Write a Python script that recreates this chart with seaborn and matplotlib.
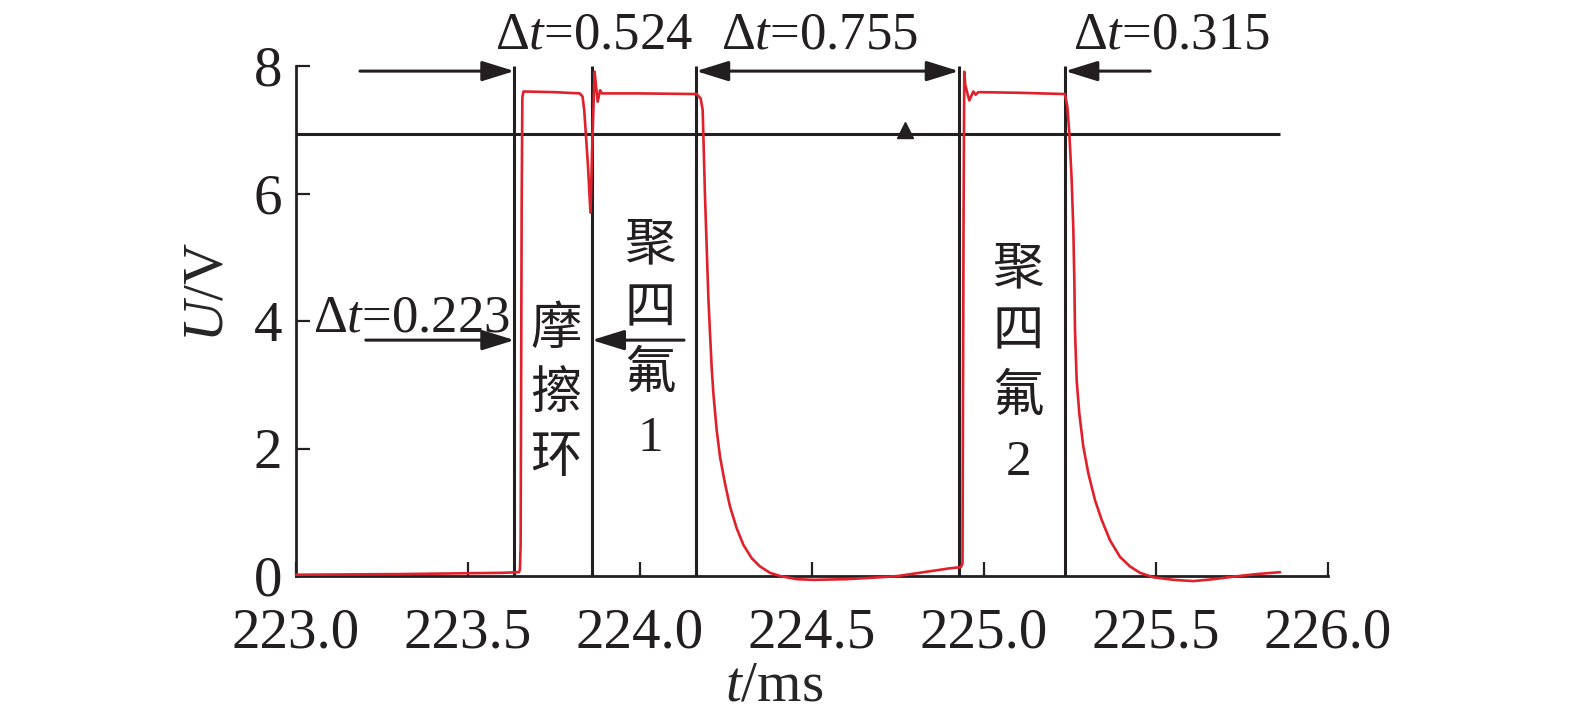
import matplotlib
matplotlib.use("Agg")
import matplotlib.pyplot as plt
import seaborn as sns
import pandas as pd

# red voltage trace (t in ms, U in V)
t_ms = [223.000, 223.300, 223.600, 223.648, 223.651, 223.653, 223.656, 223.658, 223.661,
        223.750, 223.825, 223.833, 223.838, 223.848, 223.856, 223.862, 223.868, 223.872,
        223.877, 223.884, 223.889, 224.000, 224.1647, 224.1764, 224.1822, 224.1841,
        224.1890, 224.1938, 224.1986, 224.2035, 224.2083, 224.2132, 224.2229, 224.2326,
        224.2471, 224.2616, 224.2810, 224.3004, 224.3246, 224.3488, 224.3779, 224.4070,
        224.4554, 224.5039, 224.6008, 224.6977, 224.750, 224.800, 224.850, 224.900,
        224.933, 224.9375, 224.9405, 224.9427, 224.9456, 224.9573, 224.9689, 224.9759,
        224.9834, 225.100, 225.2355, 225.2423, 225.2481, 225.2549, 225.2597, 225.2626,
        225.2645, 225.2694, 225.2771, 225.2887, 225.3033, 225.3227, 225.3421, 225.3663,
        225.3953, 225.4244, 225.4535, 225.4922, 225.5504, 225.6085, 225.6667, 225.7248,
        225.7926, 225.8605]
u_v = [0.02, 0.03, 0.05, 0.06, 0.10, 0.50, 5.80, 7.50, 7.60,
       7.59, 7.57, 7.52, 7.30, 6.50, 5.70, 6.90, 7.91, 7.70,
       7.44, 7.62, 7.57, 7.57, 7.56, 7.49, 7.31, 6.94,
       5.95, 5.17, 4.38, 3.81, 3.28, 2.87, 2.29, 1.87,
       1.45, 1.09, 0.75, 0.49, 0.28, 0.15, 0.05, 0.00,
       -0.05, -0.06, -0.05, -0.02, 0.00, 0.04, 0.08, 0.12,
       0.14, 0.20, 5.50, 7.91, 7.70, 7.46, 7.60, 7.55,
       7.59, 7.58, 7.56, 7.36, 6.94, 6.21, 5.43, 4.64,
       3.86, 3.07, 2.55, 2.03, 1.61, 1.19, 0.88, 0.56,
       0.30, 0.15, 0.05, -0.02, -0.06, -0.08, -0.05, -0.01,
       0.03, 0.06]

threshold_u = 6.94
threshold_t = [223.0, 225.86]
marker_t = 224.77
edge_t = [223.635, 223.860, 224.163, 224.927, 225.236]

# (start, end) of arrows
arrows_top = [(223.186, 223.635), (225.483, 225.236)]
arrow_double = (224.163, 224.927)
arrow_top_y = 7.92
arrows_low = [(223.203, 223.635), (224.128, 223.860)]
arrow_low_y = 3.70

dt_labels = ["Δ$t$=0.524", "Δ$t$=0.755", "Δ$t$=0.315", "Δ$t$=0.223"]
dt_pos = [(223.866, 8.28), (224.523, 8.28), (225.544, 8.28), (223.337, 3.83)]
cn_labels = ["摩擦环", "聚四氟1", "聚四氟2"]
cn_pos = [(223.756, 4.21), (224.029, 5.52), (225.100, 5.15)]

xticks = [223.0, 223.5, 224.0, 224.5, 225.0, 225.5, 226.0]
yticks = [0, 2, 4, 6, 8]

sns.set_style("ticks")
plt.rcParams["font.family"] = ["Liberation Serif", "Noto Sans CJK SC"]
plt.rcParams["mathtext.fontset"] = "custom"
plt.rcParams["mathtext.rm"] = "Liberation Serif"
plt.rcParams["mathtext.it"] = "Liberation Serif:italic"

fig = plt.figure(figsize=(15.75, 7.28), dpi=100)
ax = fig.add_axes([296 / 1575, 1 - 576 / 728, 1032 / 1575, 510 / 728])

df = pd.DataFrame({"t": t_ms, "u": u_v})
sns.lineplot(data=df, x="t", y="u", ax=ax, sort=False, estimator=None,
             color="#e0202a", lw=1.9, clip_on=False, zorder=3)

ax.hlines(threshold_u, threshold_t[0], threshold_t[1], color="#231f20", lw=2.2, zorder=2)
ax.plot([marker_t], [threshold_u + 0.06], marker="^", ms=12, color="#231f20",
        clip_on=False, zorder=4)
ax.vlines(edge_t, 0, 8, color="#231f20", lw=2.2, zorder=2, clip_on=False)

aprops = dict(arrowstyle="-|>,head_length=0.9,head_width=0.28", mutation_scale=22,
              lw=2.2, color="#231f20", shrinkA=0, shrinkB=0)
for s, e in arrows_top:
    ax.annotate("", xy=(e, arrow_top_y), xytext=(s, arrow_top_y), arrowprops=aprops,
                annotation_clip=False)
for s, e in arrows_low:
    ax.annotate("", xy=(e, arrow_low_y), xytext=(s, arrow_low_y), arrowprops=aprops,
                annotation_clip=False)
dprops = dict(aprops)
dprops["arrowstyle"] = "<|-|>,head_length=0.9,head_width=0.28"
ax.annotate("", xy=(arrow_double[1], arrow_top_y), xytext=(arrow_double[0], arrow_top_y),
            arrowprops=dprops, annotation_clip=False)

for lab, (x, y) in zip(dt_labels, dt_pos):
    ax.text(x, y, lab, fontsize=38, ha="center", va="baseline", color="#231f20")
for lab, (x, y) in zip(cn_labels, cn_pos):
    ax.text(x, y, "\n".join(lab), fontsize=37, ha="center", va="top",
            linespacing=1.48, color="#231f20")

ax.set_xlim(223.0, 226.0)
ax.set_ylim(0, 8)
ax.set_xticks(xticks)
ax.set_xticklabels([f"{v:.1f}" for v in xticks])
ax.set_yticks(yticks)
ax.tick_params(direction="in", length=10, width=1.6, labelsize=41, colors="#231f20")
ax.tick_params(axis="x", pad=23)
ax.tick_params(axis="y", pad=10)
ax.set_xlabel("$t$/ms", fontsize=41)
ax.set_ylabel("$U$/V", fontsize=41)
ax.xaxis.set_label_coords(0.463, -0.165)
ax.yaxis.set_label_coords(-0.06, 0.557)
sns.despine(ax=ax)
for sp in ["left", "bottom"]:
    ax.spines[sp].set_linewidth(2.0)
    ax.spines[sp].set_color("#231f20")

fig.savefig("out.png", dpi=100)
